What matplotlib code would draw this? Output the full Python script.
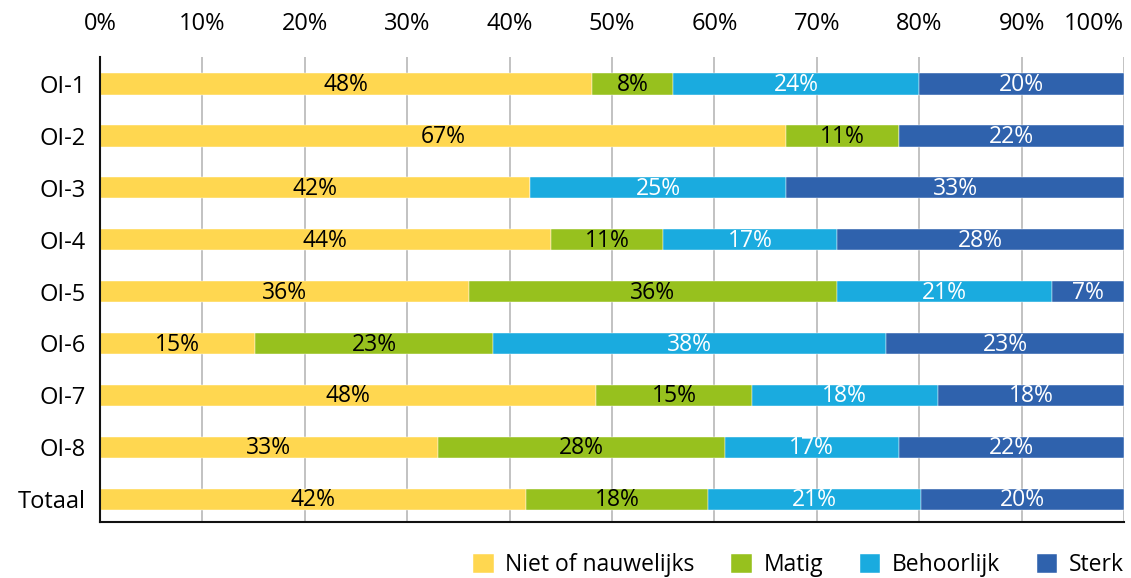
import matplotlib.pyplot as plt
import numpy as np

plt.rcParams['font.family'] = ['Open Sans', 'DejaVu Sans']

categories = ['OI-1', 'OI-2', 'OI-3', 'OI-4', 'OI-5', 'OI-6', 'OI-7', 'OI-8', 'Totaal']
series_names = ['Niet of nauwelijks', 'Matig', 'Behoorlijk', 'Sterk']
niet = [48, 67, 42, 44, 36, 15, 48, 33, 42]
matig = [8, 11, 0, 11, 36, 23, 15, 28, 18]
behoorlijk = [24, 0, 25, 17, 21, 38, 18, 17, 21]
sterk = [20, 22, 33, 28, 7, 23, 18, 22, 20]
xticks = [0, 10, 20, 30, 40, 50, 60, 70, 80, 90, 100]

colors = ['#FFD750', '#97C11E', '#1AABDF', '#2F62AD']
text_colors = ['black', 'black', 'white', 'white']

values = np.array([niet, matig, behoorlijk, sterk], dtype=float)
# 100% gestapeld: elk segment als aandeel van de rijtotaal
shares = values / values.sum(axis=0) * 100

fig = plt.figure(figsize=(11.31, 5.78), dpi=100)
ax = fig.add_axes([100 / 1131, 1 - 522 / 578, 1024 / 1131, 465 / 578])

y = np.arange(len(categories))
left = np.zeros(len(categories))
for i, name in enumerate(series_names):
    ax.barh(y, shares[i], left=left, height=0.41, color=colors[i],
            label=name, zorder=2, edgecolor='white', linewidth=0.3)
    for j, (v, w) in enumerate(zip(values[i], shares[i])):
        if v > 0:
            ax.text(left[j] + w / 2, y[j] + 0.02, f'{v:.0f}%', ha='center', va='center',
                    fontsize=16.5, color=text_colors[i], zorder=3)
    left += shares[i]

ax.set_xlim(0, 100)
ax.set_ylim(len(categories) - 1 + 0.44, -0.52)
ax.set_xticks(xticks)
ax.set_xticklabels([f'{t}%' for t in xticks])
ax.xaxis.tick_top()
ax.get_xticklabels()[-1].set_horizontalalignment('right')
ax.set_yticks(y)
ax.set_yticklabels(categories)
ax.tick_params(axis='both', length=0, labelsize=17)
ax.tick_params(axis='y', pad=10)
ax.tick_params(axis='x', pad=15)
ax.grid(axis='x', color='#BDBDBD', linewidth=1.3, zorder=0)
for side in ['top', 'right']:
    ax.spines[side].set_visible(False)
for side in ['left', 'bottom']:
    ax.spines[side].set_color('#111111')
    ax.spines[side].set_linewidth(1.5)
    ax.spines[side].set_zorder(4)

fig.legend(loc='lower right', bbox_to_anchor=(1133 / 1131, -0.014), ncol=4, frameon=False,
           fontsize=16.5, handlelength=0.9, handleheight=0.9, handletextpad=0.5,
           columnspacing=1.6, borderaxespad=0)

fig.savefig('out.png', dpi=100)
